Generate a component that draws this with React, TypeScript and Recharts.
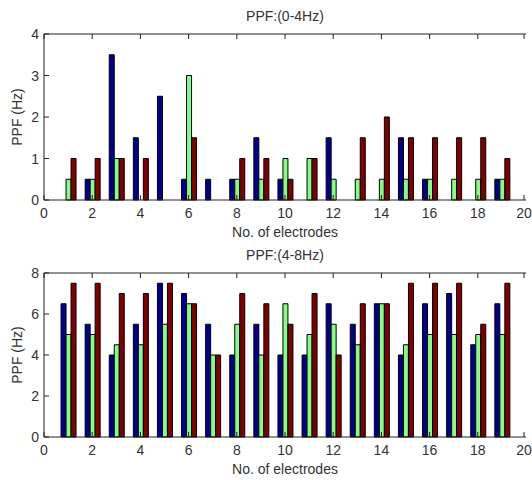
import { BarChart, Bar, XAxis, YAxis } from 'recharts';

const electrodes = [1, 2, 3, 4, 5, 6, 7, 8, 9, 10, 11, 12, 13, 14, 15, 16, 17, 18, 19];
const xTicks = [0, 2, 4, 6, 8, 10, 12, 14, 16, 18, 20];

// PPF (0-4Hz)
const lowBlue  = [0, 0.5, 3.5, 1.5, 2.5, 0.5, 0.5, 0.5, 1.5, 0.5, 0, 1.5, 0, 0, 1.5, 0.5, 0, 0, 0.5];
const lowGreen = [0.5, 0.5, 1, 0, 0, 3, 0, 0.5, 0.5, 1, 1, 0.5, 0.5, 0.5, 0.5, 0.5, 0.5, 0.5, 0.5];
const lowRed   = [1, 1, 1, 1, 0, 1.5, 0, 1, 1, 0.5, 1, 0, 1.5, 2, 1.5, 1.5, 1.5, 1.5, 1];
const lowTicks = [0, 1, 2, 3, 4];

// PPF (4-8Hz)
const highBlue  = [6.5, 5.5, 4, 5.5, 7.5, 7, 5.5, 4, 5.5, 4, 4, 6.5, 5.5, 6.5, 4, 6.5, 7, 4.5, 6.5];
const highGreen = [5, 5, 4.5, 4.5, 5.5, 6.5, 4, 5.5, 4, 6.5, 5, 5.5, 4.5, 6.5, 4.5, 5, 5, 5, 5];
const highRed   = [7.5, 7.5, 7, 7, 7.5, 6.5, 4, 7, 6.5, 5.5, 7, 4, 6.5, 6.5, 7.5, 7.5, 7.5, 5.5, 7.5];
const highTicks = [0, 2, 4, 6, 8];

const FONT = '"Liberation Sans", Arial, sans-serif';
const FS = 14;
const TXT = '#333';
const AX = '#222';

const BottomTick = (p: any) => (
  <g>
    <line x1={p.x} x2={p.x} y1={p.y} y2={p.y - 5} stroke={AX} />
    <text x={p.x} y={p.y + 18} textAnchor="middle" fontSize={FS} fill={TXT} fontFamily={FONT}>
      {p.payload.value}
    </text>
  </g>
);
const TopTick = (p: any) => <line x1={p.x} x2={p.x} y1={p.y} y2={p.y + 5} stroke={AX} />;
const LeftTick = (p: any) => (
  <g>
    <line x1={p.x} x2={p.x + 5} y1={p.y} y2={p.y} stroke={AX} />
    <text x={p.x - 5} y={p.y + 5} textAnchor="end" fontSize={FS} fill={TXT} fontFamily={FONT}>
      {p.payload.value}
    </text>
  </g>
);
const RightTick = (p: any) => <line x1={p.x} x2={p.x - 5} y1={p.y} y2={p.y} stroke={AX} />;

const textStyle = { position: 'absolute', fontFamily: FONT, fontSize: FS, color: TXT, lineHeight: '16px', whiteSpace: 'nowrap' } as const;

function Panel({ title, blue, green, red, yTicks, plotTop, plotBottom }: {
  title: string; blue: number[]; green: number[]; red: number[]; yTicks: number[]; plotTop: number; plotBottom: number;
}) {
  const data = electrodes.map((e, i) => ({ e, blue: blue[i], green: green[i], red: red[i] }));
  const yMax = yTicks[yTicks.length - 1];
  return (
    <div style={{ position: 'relative', width: 532, height: 240 }}>
      <div style={{ ...textStyle, top: plotTop - 26, left: 44, width: 482, textAlign: 'center' }}>{title}</div>
      <div style={{ ...textStyle, top: plotBottom + 24, left: 44, width: 482, textAlign: 'center' }}>No. of electrodes</div>
      <div
        style={{
          ...textStyle, left: 17, top: (plotTop + plotBottom) / 2,
          transform: 'translate(-50%, -50%) rotate(-90deg)',
        }}
      >
        PPF (Hz)
      </div>
      <BarChart
        width={532} height={240} data={data}
        margin={{ top: plotTop - 10, right: 6, bottom: 0, left: 8 }}
        barSize={5} barGap={0}
      >
        <XAxis
          dataKey="e" type="number" domain={[0, 20]} ticks={xTicks} allowDataOverflow
          stroke={AX} tickLine={false} tickSize={0} tickMargin={0} tick={<BottomTick />}
          height={240 - plotBottom}
        />
        <XAxis
          xAxisId="top" orientation="top" dataKey="e" type="number" domain={[0, 20]} ticks={xTicks}
          allowDataOverflow stroke={AX} tickLine={false} tickSize={0} tickMargin={0} tick={<TopTick />} height={10}
        />
        <YAxis
          type="number" domain={[0, yMax]} ticks={yTicks} width={36} stroke={AX}
          tickLine={false} tickSize={0} tickMargin={0} tick={<LeftTick />}
        />
        <YAxis
          yAxisId="right" orientation="right" type="number" domain={[0, yMax]} ticks={yTicks} width={0}
          stroke={AX} tickLine={false} tickSize={0} tickMargin={0} tick={<RightTick />}
        />
        <Bar dataKey="blue" fill="#00008f" stroke="#000" strokeWidth={1} isAnimationActive={false} />
        <Bar dataKey="green" fill="#80ff80" stroke="#000" strokeWidth={1} isAnimationActive={false} />
        <Bar dataKey="red" fill="#800000" stroke="#000" strokeWidth={1} isAnimationActive={false} />
      </BarChart>
    </div>
  );
}

export default function App() {
  return (
    <div style={{ position: 'absolute', left: 0, top: 0, width: 532, height: 480, background: '#fff' }}>
      <Panel title="PPF:(0-4Hz)" blue={lowBlue} green={lowGreen} red={lowRed} yTicks={lowTicks} plotTop={34} plotBottom={200} />
      <Panel title="PPF:(4-8Hz)" blue={highBlue} green={highGreen} red={highRed} yTicks={highTicks} plotTop={33} plotBottom={197} />
    </div>
  );
}
